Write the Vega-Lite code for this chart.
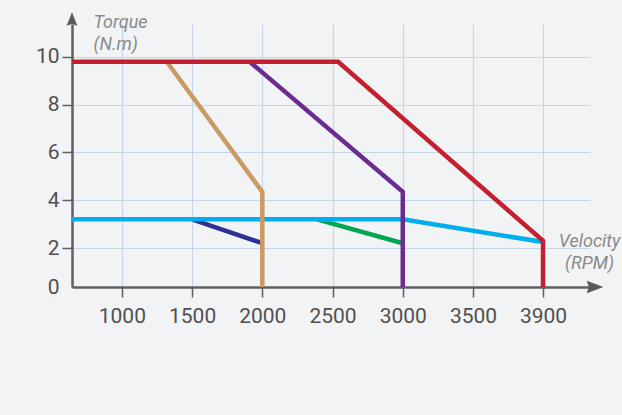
{
  "$schema": "https://vega.github.io/schema/vega-lite/v6.json",
  "autosize": {"type": "none"},
  "padding": {"left": 72, "top": 24, "right": 32, "bottom": 128},
  "width": 518,
  "height": 263,
  "background": "#f2f3f5",
  "config": {
    "view": {"stroke": null},
    "axis": {
      "labelFont": "Roboto",
      "labelFontSize": 21,
      "labelColor": "#505050",
      "domainColor": "#5f5f5f",
      "domainWidth": 2.5,
      "tickColor": "#5f5f5f",
      "tickWidth": 1.5,
      "tickSize": 10,
      "gridColor": "#c6d6ea",
      "gridWidth": 1.2,
      "titleFont": "Roboto",
      "titleFontSize": 18,
      "titleFontStyle": "italic",
      "titleFontWeight": "normal",
      "titleColor": "#8a8a8a",
      "titleLineHeight": 22
    }
  },
  "datasets": {
    "curves": [
      {"curve": "S1", "i": 1, "rpm": 1500, "torque": 3.2},
      {"curve": "S1", "i": 2, "rpm": 2000, "torque": 2.2},
      {"curve": "S2", "i": 1, "rpm": 2390, "torque": 3.2},
      {"curve": "S2", "i": 2, "rpm": 3000, "torque": 2.2},
      {"curve": "S3", "i": 1, "rpm": 645, "torque": 3.2},
      {"curve": "S3", "i": 2, "rpm": 3000, "torque": 3.2},
      {"curve": "S3", "i": 3, "rpm": 3900, "torque": 2.25},
      {"curve": "S4", "i": 1, "rpm": 1320, "torque": 9.8},
      {"curve": "S4", "i": 2, "rpm": 2000, "torque": 4.35},
      {"curve": "S4", "i": 3, "rpm": 2000, "torque": 0},
      {"curve": "S5", "i": 1, "rpm": 1910, "torque": 9.8},
      {"curve": "S5", "i": 2, "rpm": 3000, "torque": 4.35},
      {"curve": "S5", "i": 3, "rpm": 3000, "torque": 0},
      {"curve": "S6", "i": 1, "rpm": 645, "torque": 9.8},
      {"curve": "S6", "i": 2, "rpm": 2540, "torque": 9.8},
      {"curve": "S6", "i": 3, "rpm": 3900, "torque": 2.3},
      {"curve": "S6", "i": 4, "rpm": 3900, "torque": 0}
    ],
    "arrowY": [{"rpm": 645, "torque": 11.59}],
    "arrowX": [{"rpm": 4271, "torque": 0}]
  },
  "encoding": {
    "x": {
      "field": "rpm",
      "type": "quantitative",
      "scale": {"domain": [645, 3500, 3900, 4235], "range": [0, 401, 471, 518], "nice": false, "zero": false},
      "axis": {
        "values": [1000, 1500, 2000, 2500, 3000, 3500, 3900],
        "format": "d",
        "labelPadding": 8,
        "grid": true,
        "title": ["Velocity", "(RPM)"],
        "titleAnchor": null,
        "titleAlign": "center",
        "titleBaseline": "alphabetic",
        "titleAngle": 0,
        "titleX": 517,
        "titleY": -41
      }
    },
    "y": {
      "field": "torque",
      "type": "quantitative",
      "scale": {"domain": [0, 2, 11.38], "range": [263, 224, 0], "nice": false, "zero": false},
      "axis": {
        "values": [0, 2, 4, 6, 8, 10],
        "labelPadding": 3,
        "grid": true,
        "gridOpacity": {"condition": {"test": "datum.value === 0", "value": 0}, "value": 1},
        "tickOpacity": {"condition": {"test": "datum.value === 0", "value": 0}, "value": 1},
        "title": ["Torque", "(N.m)"],
        "titleAnchor": null,
        "titleAngle": 0,
        "titleAlign": "left",
        "titleBaseline": "alphabetic",
        "titleX": 21,
        "titleY": 3
      }
    }
  },
  "layer": [
    {
      "data": {"name": "curves"},
      "mark": {"type": "line", "strokeWidth": 4.5, "strokeCap": "butt", "strokeJoin": "miter"},
      "encoding": {
        "color": {
          "field": "curve",
          "type": "nominal",
          "scale": {"domain": ["S1", "S2", "S3", "S4", "S5", "S6"], "range": ["#2e3192", "#00a651", "#00aeef", "#c89a64", "#6b2c91", "#c41f2e"]},
          "legend": null
        },
        "order": {"field": "i", "type": "quantitative"}
      }
    },
    {
      "data": {"name": "arrowY"},
      "mark": {"type": "point", "shape": "M0,-1L0.8,1L0,0.75L-0.8,1Z", "size": 180, "filled": true, "color": "#5a5a5a", "opacity": 1, "clip": false}
    },
    {
      "data": {"name": "arrowX"},
      "mark": {"type": "point", "shape": "M1,0L-1,0.76L-0.75,0L-1,-0.76Z", "size": 279, "filled": true, "color": "#5a5a5a", "opacity": 1, "clip": false}
    }
  ]
}
